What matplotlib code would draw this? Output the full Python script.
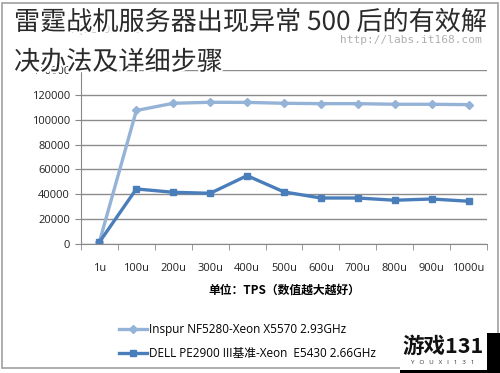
import matplotlib as mlp
mlp.use("Agg")
import matplotlib.pyplot as plt
import matplotlib.patheffects as pe
from matplotlib.patches import Rectangle

plt.rcParams['font.family'] = ['Open Sans', 'Noto Sans CJK SC', 'DejaVu Sans']

categories = ["1u", "100u", "200u", "300u", "400u", "500u", "600u", "700u", "800u", "900u", "1000u"]
inspur_tps = [1800, 107500, 113300, 114100, 114000, 113300, 113000, 113000, 112500, 112500, 112200]
dell_tps = [1500, 44300, 41600, 40800, 55000, 41900, 37000, 37000, 35200, 36200, 34400]
inspur_name = "Inspur NF5280-Xeon X5570 2.93GHz"
dell_name = "DELL PE2900 III基准-Xeon  E5430 2.66GHz"
y_ticks = [0, 20000, 40000, 60000, 80000, 100000, 120000, 140000]

light = "#95b3d7"
dark = "#4a7ebb"

fig = plt.figure(figsize=(5, 3.73), dpi=100)
fig.patch.set_facecolor("white")

# chart frame
fig.patches.append(Rectangle((0.004, 0.013), 0.992, 0.98, transform=fig.transFigure,
                             fill=False, edgecolor="#a0a0a0", lw=1.2))

ax = fig.add_axes([0.162, 0.346, 0.812, 0.466])
x = list(range(len(categories)))
ax.plot(x, inspur_tps, color=light, lw=2.4, marker="D", ms=4.5, label=inspur_name)
ax.plot(x, dell_tps, color=dark, lw=2.4, marker="s", ms=5, label=dell_name)

ax.set_xlim(-0.5, len(categories) - 0.5)
ax.set_ylim(0, 140000)
ax.set_yticks(y_ticks)
ax.set_yticklabels([str(v) for v in y_ticks], fontsize=8, color="#222222")
ax.set_xticks(x)
ax.set_xticklabels(categories, fontsize=8, color="#222222")
ax.set_xticks([i - 0.5 for i in range(len(categories) + 1)], minor=True)
ax.tick_params(axis="x", which="major", length=0, pad=14)
ax.tick_params(axis="x", which="minor", length=4, color="#888888", direction="out")
ax.tick_params(axis="y", length=4, color="#888888", pad=4)
ax.grid(axis="y", color="#8c8c8c", lw=1)
ax.set_axisbelow(True)
for s in ["top", "right"]:
    ax.spines[s].set_visible(False)
for s in ["left", "bottom"]:
    ax.spines[s].set_color("#888888")

ax.set_xlabel("单位：TPS（数值越大越好）", fontsize=8.5, fontweight="bold",
              family=["Noto Sans CJK SC"], labelpad=7)

fig.legend(loc="lower left", bbox_to_anchor=(0.216, 0.006), bbox_transform=fig.transFigure,
           frameon=False, fontsize=8.5, handlelength=2.4, handletextpad=0.2, labelspacing=0.95)

# faint text of the original chart header
fig.text(0.136, 0.912, "SQL2005 TPS", fontsize=8.5, color="#c4c4c4")
fig.text(0.68, 0.885, "http://labs.it168.com", fontsize=8, color="#b0b0b0", family="DejaVu Sans Mono")

# overlaid title
stroke = [pe.withStroke(linewidth=3, foreground="white")]
fig.text(0.028, 0.94, "雷霆战机服务器出现异常 500 后的有效解", fontsize=18.8, color="#2a2a2a",
         family=["Noto Sans CJK SC"], fontweight="light", va="center", path_effects=stroke)
fig.text(0.028, 0.833, "决办法及详细步骤", fontsize=18.8, color="#2a2a2a",
         family=["Noto Sans CJK SC"], fontweight="light", va="center", path_effects=stroke)

# watermark box
fig.patches.append(Rectangle((0.8, 0.0), 0.2, 0.107, transform=fig.transFigure,
                             facecolor="black", edgecolor="none", zorder=5))
fig.patches.append(Rectangle((0.8, 0.008), 0.174, 0.13, transform=fig.transFigure,
                             facecolor="white", edgecolor="none", zorder=6))
fig.text(0.886, 0.072, "游戏131", fontsize=15.5, fontweight="bold", color="#111111",
         family=["Noto Sans CJK SC"], ha="center", va="center", zorder=7)
fig.text(0.886, 0.027, "Y   O   U   X   I   1   3   1", fontsize=4.5, color="#333333",
         ha="center", va="center", zorder=7)

fig.savefig("out.png", dpi=100)
